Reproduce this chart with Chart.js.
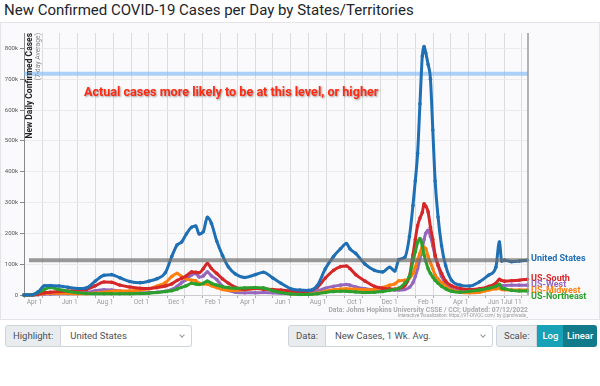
<!DOCTYPE html>
<html lang="en">
  <head>
    <meta charset="UTF-8" />
    <title>New Confirmed COVID-19 Cases per Day by States/Territories</title>
    <script src="https://cdn.jsdelivr.net/npm/chart.js@4"></script>
    <style>
      body {
        margin: 0;
        width: 600px;
        height: 386px;
        overflow: hidden;
        position: relative;
        background: #fff;
        font-family: Roboto, "Helvetica Neue", Arial, sans-serif;
      }
      h1 {
        position: absolute;
        left: 4px;
        top: 0;
        margin: 0;
        font-size: 15px;
        line-height: 20px;
        font-weight: 400;
        color: #212529;
      }
      .card {
        position: absolute;
        left: 0;
        top: 22px;
        width: 600px;
        height: 298px;
        box-sizing: border-box;
        border: 1px solid #e4e4e8;
        background: #fafafc;
      }
      .chart-box {
        position: absolute;
        left: 0;
        top: 22px;
        width: 600px;
        height: 297px;
      }
      .group {
        position: absolute;
        top: 325px;
        height: 22px;
        display: flex;
        font-size: 9.5px;
        color: #495057;
      }
      .lbl {
        background: #e9ecef;
        border: 1px solid #ced4da;
        border-radius: 3px 0 0 3px;
        padding: 0 7px;
        line-height: 20px;
      }
      .sel {
        flex: 1;
        position: relative;
        background: #fff;
        border: 1px solid #ced4da;
        border-left: none;
        border-radius: 0 3px 3px 0;
        padding: 0 9px;
        line-height: 20px;
      }
      .sel::after {
        content: "";
        position: absolute;
        right: 7px;
        top: 7px;
        width: 3px;
        height: 3px;
        border-right: 1px solid #999;
        border-bottom: 1px solid #999;
        transform: rotate(45deg);
      }
      .btn {
        color: #fff;
        line-height: 22px;
        text-align: center;
        font-weight: 500;
      }
    </style>
  </head>
  <body>
    <h1>New Confirmed COVID-19 Cases per Day by States/Territories</h1>
    <div class="card"></div>
    <div class="chart-box"><canvas id="chart"></canvas></div>

    <div class="group" style="left: 5px; width: 187px">
      <span class="lbl">Highlight:</span><span class="sel">United States</span>
    </div>
    <div class="group" style="left: 288px; width: 205px">
      <span class="lbl">Data:</span><span class="sel">New Cases, 1 Wk. Avg.</span>
    </div>
    <div class="group" style="left: 496px; width: 101px">
      <span class="lbl">Scale:</span>
      <span class="btn" style="width: 29px; background: #17a2b8">Log</span>
      <span class="btn" style="width: 38px; background: #117a8b; border-radius: 0 3px 3px 0">Linear</span>
    </div>

    <script>
      const startDate = "2020-03-01";
      const endDate = "2022-07-12";

      const dates = [
        "2020-03-01", "2020-03-15", "2020-03-25", "2020-04-05", "2020-04-15", "2020-04-30", "2020-05-15", "2020-06-01", "2020-06-16", "2020-07-01",
        "2020-07-16", "2020-07-29", "2020-08-12", "2020-08-29", "2020-09-16", "2020-10-01", "2020-10-15", "2020-10-29", "2020-11-09", "2020-11-18",
        "2020-11-26", "2020-12-04", "2020-12-13", "2020-12-20", "2020-12-26", "2021-01-02", "2021-01-09", "2021-01-16", "2021-01-25", "2021-02-04",
        "2021-02-14", "2021-02-26", "2021-03-14", "2021-04-01", "2021-04-15", "2021-05-01", "2021-05-15", "2021-06-01", "2021-06-16", "2021-07-01",
        "2021-07-16", "2021-07-30", "2021-08-13", "2021-08-25", "2021-09-04", "2021-09-10", "2021-09-20", "2021-10-06", "2021-10-22", "2021-11-05",
        "2021-11-17", "2021-11-26", "2021-12-03", "2021-12-13", "2021-12-21", "2021-12-27", "2021-12-31", "2022-01-04", "2022-01-08", "2022-01-12",
        "2022-01-15", "2022-01-18", "2022-01-22", "2022-01-26", "2022-01-30", "2022-02-03", "2022-02-08", "2022-02-14", "2022-02-21", "2022-03-03",
        "2022-03-18", "2022-04-03", "2022-04-20", "2022-05-06", "2022-05-18", "2022-05-24", "2022-05-28", "2022-06-02", "2022-06-14", "2022-06-27",
        "2022-07-11"
      ];

      // 7-day average new cases, in thousands
      const unitedStates = [
        0, 1, 10, 30, 31, 29, 25, 21, 23, 45,
        64, 66, 56, 44, 40, 45, 53, 72, 125, 162,
        172, 198, 220, 224, 198, 205, 252, 232, 175, 128,
        91, 68, 57, 66, 74, 55, 38, 20, 16, 15,
        30, 85, 125, 150, 167, 150, 135, 100, 80, 75,
        90, 78, 115, 122, 190, 290, 370, 460, 620, 775,
        806, 785, 748, 700, 535, 370, 253, 160, 95, 48,
        32, 29, 43, 65, 90, 172, 110, 113, 108, 110,
        113
      ];
      const usSouth = [
        0, 0, 3, 7, 9, 11, 13, 15, 18, 30,
        42, 41, 32, 26, 22, 21, 24, 29, 36, 47,
        54, 62, 75, 74, 72, 85, 102, 86, 70, 52,
        38, 25, 18, 21, 19, 18, 16, 13, 11, 13,
        24, 55, 80, 92, 94, 86, 66, 45, 28, 22,
        20, 19, 22, 30, 60, 130, 180, 225, 250, 268,
        296, 288, 269, 220, 180, 130, 97, 70, 45, 30,
        21, 18, 20, 28, 38, 51, 47, 45, 46, 48,
        51
      ];
      const usWest = [
        0, 0, 1, 3, 3, 4, 4, 5, 8, 14,
        17, 16, 13, 9, 7, 8, 9, 12, 18, 28,
        40, 50, 65, 70, 58, 62, 75, 62, 50, 28,
        15, 9, 7, 7, 8, 7, 6, 4, 4, 6,
        12, 22, 28, 32, 34, 32, 26, 20, 17, 17,
        18, 16, 16, 18, 25, 40, 60, 85, 120, 150,
        180, 200, 210, 190, 160, 125, 95, 60, 38, 20,
        12, 9, 12, 20, 26, 33, 31, 31, 32, 32,
        32
      ];
      const usMidwest = [
        0, 0, 2, 5, 6, 6, 5, 4, 4, 6,
        9, 12, 13, 13, 16, 20, 29, 40, 60, 70,
        60, 52, 48, 46, 38, 36, 35, 30, 24, 18,
        15, 15, 17, 21, 20, 15, 10, 5, 3, 3,
        6, 12, 17, 19, 20, 19, 19, 17, 18, 24,
        32, 36, 46, 48, 55, 70, 90, 115, 135, 155,
        155, 150, 125, 105, 85, 65, 52, 40, 28, 16,
        9, 7, 9, 16, 20, 21, 18, 17, 16, 16,
        16
      ];
      const usNortheast = [
        0, 1, 8, 18, 24, 18, 12, 7, 5, 4,
        4, 4, 4, 4, 5, 6, 8, 11, 14, 19,
        25, 30, 38, 36, 34, 38, 45, 38, 32, 27,
        24, 22, 23, 24, 23, 14, 8, 3, 2, 2,
        4, 8, 11, 12, 12, 11, 10, 8, 9, 11,
        15, 18, 22, 38, 60, 110, 140, 170, 183, 160,
        130, 110, 85, 70, 58, 48, 38, 28, 20, 12,
        9, 12, 16, 22, 28, 35, 22, 20, 15, 13,
        13
      ];

      const tickDates = [
        "2020-04-01", "2020-06-01", "2020-08-01", "2020-10-01", "2020-12-01", "2021-02-01", "2021-04-01",
        "2021-06-01", "2021-08-01", "2021-10-01", "2021-12-01", "2022-02-01", "2022-04-01", "2022-06-01", "2022-07-01"
      ];
      const tickLabels = [
        "Apr 1", "Jun 1", "Aug 1", "Oct 1", "Dec 1", "Feb 1", "Apr 1",
        "Jun 1", "Aug 1", "Oct 1", "Dec 1", "Feb 1", "Apr 1", "Jun 1", "Jul 11"
      ];
      const yTicks = [0, 100000, 200000, 300000, 400000, 500000, 600000, 700000, 800000];

      const undercountLevel = 718000;
      const annotationText = "Actual cases more likely to be at this level, or higher";
      const sourceText = "Data: Johns Hopkins University CSSE / CCI; Updated: 07/12/2022";
      const creditText = "Interactive Visualization: https://91-DIVOC.com/ by @profwade_";

      const series = [
        { label: "United States", values: unitedStates, color: "#1f6fb4" },
        { label: "US-Northeast", values: usNortheast, color: "#2ca02c" },
        { label: "US-South", values: usSouth, color: "#d62728" },
        { label: "US-Midwest", values: usMidwest, color: "#ff7f0e" },
        { label: "US-West", values: usWest, color: "#9467bd" },
      ];

      function dayOf(d) {
        return (Date.parse(d) - Date.parse(startDate)) / 86400000;
      }

      function monthTicks() {
        const ticks = [];
        const s = new Date(startDate + "T00:00:00Z");
        const e = Date.parse(endDate);
        for (let y = s.getUTCFullYear(), m = s.getUTCMonth(); ; m++) {
          const t = Date.UTC(y, m, 1);
          if (t > e) break;
          ticks.push({ value: (t - Date.parse(startDate)) / 86400000 });
        }
        return ticks;
      }

      const labelByDay = {};
      tickDates.forEach((d, i) => (labelByDay[dayOf(d)] = tickLabels[i]));

      const overlay = {
        id: "overlay",
        beforeDatasetsDraw(chart) {
          const { ctx, chartArea: a, scales } = chart;
          const ly = scales.y.getPixelForValue(undercountLevel);
          ctx.save();
          ctx.strokeStyle = "rgba(120, 180, 245, 0.6)";
          ctx.lineWidth = 4;
          ctx.beginPath();
          ctx.moveTo(a.left, ly);
          ctx.lineTo(a.right, ly);
          ctx.stroke();

          // y axis title inside the plot
          ctx.translate(a.left + 5.5, a.top);
          ctx.rotate(-Math.PI / 2);
          ctx.textAlign = "right";
          ctx.textBaseline = "middle";
          ctx.fillStyle = "#222";
          ctx.font = "bold 8.5px Roboto";
          ctx.fillText("New Daily Confirmed Cases", 0, 0);
          ctx.fillStyle = "#888";
          ctx.font = "6.8px Roboto";
          ctx.fillText("(7-day Average)", 0, 8.5);
          ctx.restore();
        },
        afterDatasetsDraw(chart) {
          const { ctx, chartArea: a, scales } = chart;
          const { y } = scales;
          ctx.save();

          // highlight level: latest value of the highlighted series
          const hy = y.getPixelForValue(unitedStates[unitedStates.length - 1] * 1000);
          ctx.strokeStyle = "rgba(110, 110, 110, 0.7)";
          ctx.lineWidth = 4;
          ctx.beginPath();
          ctx.moveTo(a.left + 5, hy);
          ctx.lineTo(a.right, hy);
          ctx.stroke();

          ctx.strokeStyle = "#999";
          ctx.lineWidth = 1.5;
          ctx.beginPath();
          ctx.moveTo(a.right, a.top);
          ctx.lineTo(a.right, a.bottom);
          ctx.stroke();

          // labels at the end of each line
          ctx.font = "bold 9px Roboto";
          ctx.textAlign = "left";
          ctx.textBaseline = "middle";
          let prev = -Infinity;
          series
            .slice()
            .sort((p, q) => q.values[q.values.length - 1] - p.values[p.values.length - 1])
            .forEach((s) => {
              const v = s.values[s.values.length - 1] * 1000;
              const py = Math.max(y.getPixelForValue(v) - 1, prev + 6.3);
              ctx.fillStyle = s.color;
              ctx.fillText(s.label, a.right + 3, py);
              prev = py;
            });

          // annotation
          const ly = y.getPixelForValue(undercountLevel);
          ctx.font = "bold 12.6px Roboto";
          ctx.fillStyle = "#ff2a12";
          ctx.shadowColor = "rgba(0, 0, 0, 0.4)";
          ctx.shadowOffsetX = 1;
          ctx.shadowOffsetY = 1;
          ctx.shadowBlur = 2;
          ctx.fillText(annotationText, a.left + 60, ly + 19);
          ctx.restore();

          // source lines
          ctx.save();
          ctx.textAlign = "right";
          ctx.textBaseline = "middle";
          ctx.fillStyle = "#aaa";
          ctx.font = "bold 6.8px Roboto";
          ctx.fillText(sourceText, a.right, a.bottom + 15.7);
          ctx.font = "4.6px Roboto";
          ctx.fillStyle = "#999";
          ctx.fillText(creditText, a.right, a.bottom + 20.7);
          ctx.restore();
        },
      };

      function createChart() {
        const ctx = document.getElementById("chart").getContext("2d");
        new Chart(ctx, {
          type: "line",
          data: {
            datasets: series.map((s) => ({
              label: s.label,
              data: dates.map((d, i) => ({ x: dayOf(d), y: s.values[i] * 1000 })),
              borderColor: s.color,
              backgroundColor: s.color,
              borderWidth: 3,
              pointRadius: 1.8,
              pointBorderWidth: 0,
              cubicInterpolationMode: "monotone",
              clip: false,
            })),
          },
          options: {
            responsive: true,
            maintainAspectRatio: false,
            animation: false,
            layout: { padding: { left: 0, right: 72, top: 11, bottom: 0 } },
            plugins: { legend: { display: false }, tooltip: { enabled: false } },
            scales: {
              x: {
                type: "linear",
                min: 0,
                max: dayOf(endDate),
                afterBuildTicks: (scale) => {
                  scale.ticks = monthTicks();
                },
                afterFit: (scale) => {
                  scale.height = 24;
                },
                ticks: {
                  autoSkip: false,
                  maxRotation: 0,
                  align: "end",
                  padding: 0,
                  color: "#999",
                  font: { size: 6.5, family: "Roboto" },
                  callback: (value) => labelByDay[value] || "",
                },
                grid: { color: "#dcdcdc", tickColor: "#aaa", tickLength: 3 },
                border: { color: "#ccc" },
              },
              y: {
                min: 0,
                max: 850000,
                afterBuildTicks: (scale) => {
                  scale.ticks = yTicks.map((v) => ({ value: v }));
                },
                afterFit: (scale) => {
                  scale.width = 24;
                },
                ticks: {
                  padding: 2,
                  color: "#555",
                  font: { size: 6, family: "Roboto" },
                  callback: (value) => (value === 0 ? "0" : value / 1000 + "k"),
                },
                grid: { color: "#ebebeb", tickColor: "#888", tickLength: 4 },
                border: { color: "#888" },
              },
            },
          },
          plugins: [overlay],
        });
      }

      document.addEventListener("DOMContentLoaded", createChart);
    </script>
  </body>
</html>
